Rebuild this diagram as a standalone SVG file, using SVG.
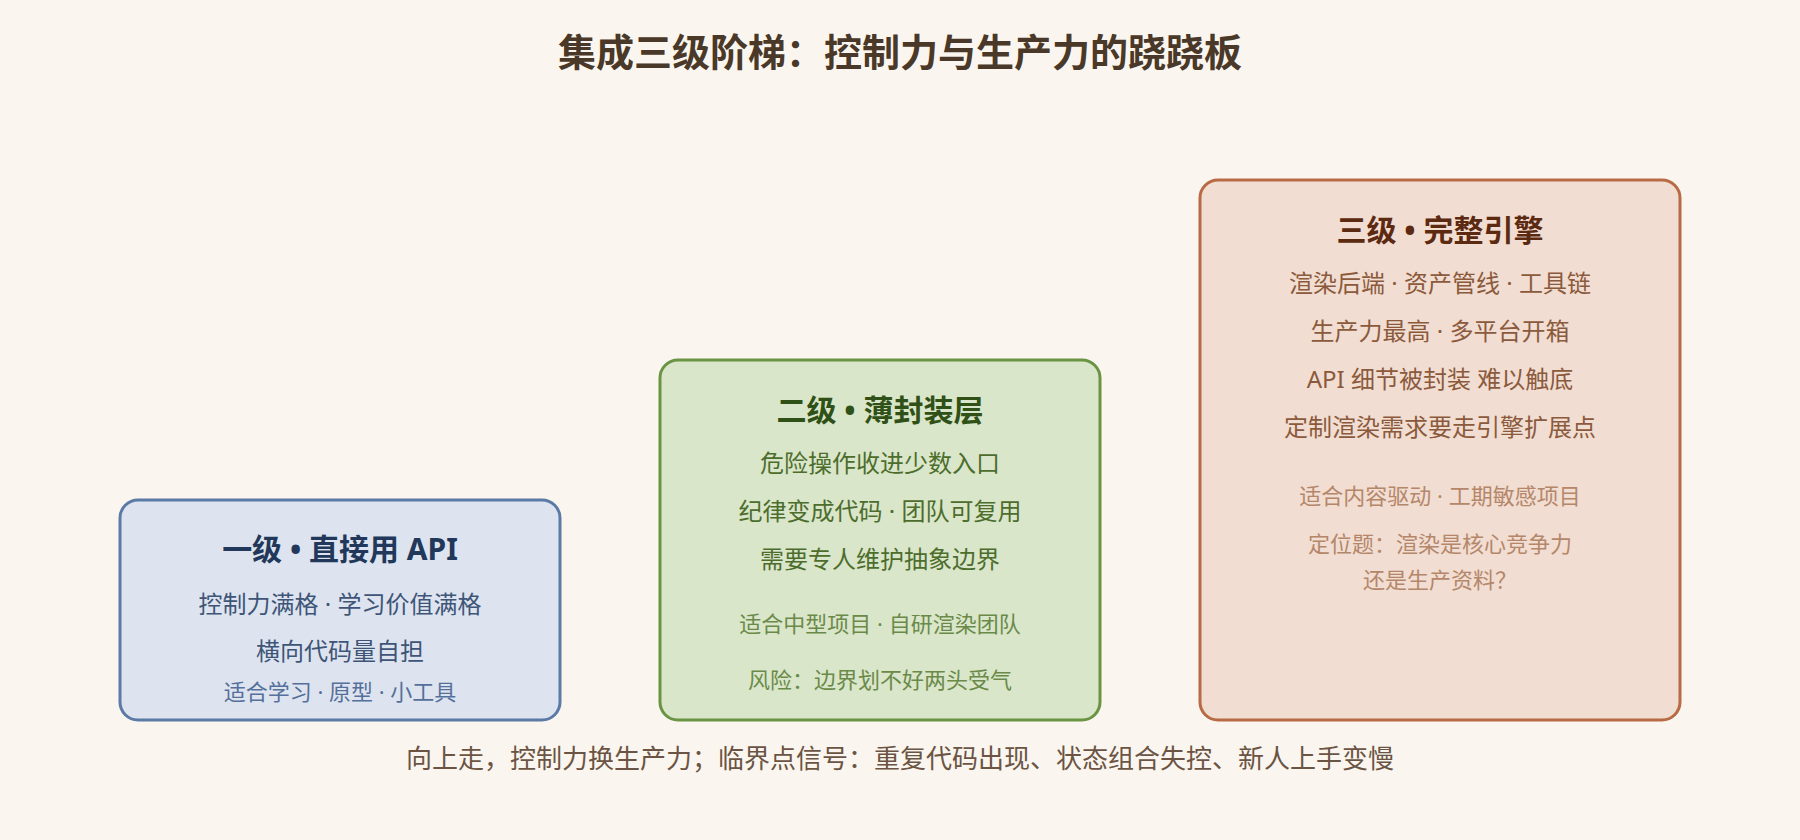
<svg xmlns="http://www.w3.org/2000/svg" width="1800" height="840" viewBox="0 0 1800 840">
<style>
text{font-family:"Noto Sans CJK SC","Noto Sans",sans-serif;text-anchor:middle}
.main{font-size:38px;font-weight:700;fill:#4a3828}
.h{font-size:30px;font-weight:700;font-family:"Noto Sans","Noto Sans CJK SC",sans-serif}
.b{font-size:24px;font-family:"Noto Sans","Noto Sans CJK SC",sans-serif}
.s{font-size:22px;font-family:"Noto Sans","Noto Sans CJK SC",sans-serif}
.cap{font-size:26px;fill:#6b5443}
.box{stroke-width:3}
</style>
<rect x="0" y="0" width="1800" height="840" fill="#faf6ef"/>
<text class="main" x="900" y="66">集成三级阶梯：控制力与生产力的跷跷板</text>
<g id="connectors"></g>
<g id="level1">
<rect class="box" x="120" y="500" width="440" height="220" rx="18" fill="#dde4ef" stroke="#5b7ba6"/>
<text class="h" x="340" y="560" fill="#22385a">一级 • 直接用 API</text>
<text class="b" x="340" y="613" fill="#3e5578">控制力满格 · 学习价值满格</text>
<text class="b" x="340" y="660" fill="#3e5578">横向代码量自担</text>
<text class="s" x="340" y="700" fill="#55709a">适合学习 · 原型 · 小工具</text>
</g>
<g id="level2">
<rect class="box" x="660" y="360" width="440" height="360" rx="18" fill="#d9e6c9" stroke="#6a9443"/>
<text class="h" x="880" y="421" fill="#2f5016">二级 • 薄封装层</text>
<text class="b" x="880" y="472" fill="#4d6d2d">危险操作收进少数入口</text>
<text class="b" x="880" y="520" fill="#4d6d2d">纪律变成代码 · 团队可复用</text>
<text class="b" x="880" y="568" fill="#4d6d2d">需要专人维护抽象边界</text>
<text class="s" x="880" y="632" fill="#6b8a4a">适合中型项目 · 自研渲染团队</text>
<text class="s" x="880" y="688" fill="#6b8a4a">风险：边界划不好两头受气</text>
</g>
<g id="level3">
<rect class="box" x="1200" y="180" width="480" height="540" rx="18" fill="#f1ddd2" stroke="#b86a45"/>
<text class="h" x="1440" y="241" fill="#5c2a10">三级 • 完整引擎</text>
<text class="b" x="1440" y="292" fill="#8b5a3c">渲染后端 · 资产管线 · 工具链</text>
<text class="b" x="1440" y="340" fill="#8b5a3c">生产力最高 · 多平台开箱</text>
<text class="b" x="1440" y="388" fill="#8b5a3c">API 细节被封装 难以触底</text>
<text class="b" x="1440" y="436" fill="#8b5a3c">定制渲染需求要走引擎扩展点</text>
<text class="s" x="1440" y="504" fill="#b5876a">适合内容驱动 · 工期敏感项目</text>
<text class="s" x="1440" y="552" fill="#b5876a">定位题：渲染是核心竞争力</text>
<text class="s" x="1440" y="588" fill="#b5876a">还是生产资料？</text>
</g>
<text class="cap" x="900" y="768">向上走，控制力换生产力；临界点信号：重复代码出现、状态组合失控、新人上手变慢</text>
</svg>
